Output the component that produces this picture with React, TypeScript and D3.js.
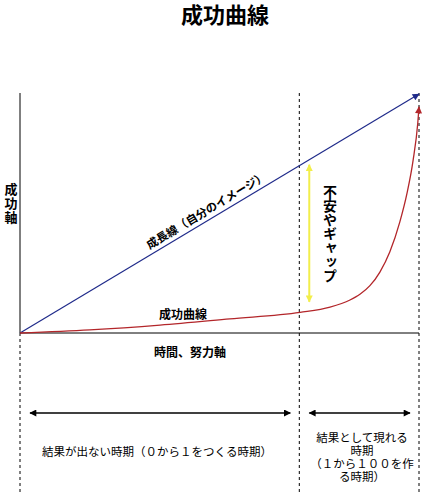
import React from 'react';
import * as d3 from 'd3';

// 横軸 = 時間・努力 (0-100), 縦軸 = 成功 (0-100)
const growthLine = [
  { t: 0, s: 0 },
  { t: 100, s: 100 },
];

// 成功曲線 (読み取り値)
const successTimes = [0, 17.5, 35.1, 52.6, 70.2, 77.7, 82.7, 85.2, 87.7, 90.2, 92.7, 95.2, 97.0, 98.5, 99.7, 100];
const successValues = [0, 1.3, 3.3, 5.9, 8.6, 10.8, 13.8, 16.2, 19.8, 25.5, 34.0, 46.5, 58.5, 72.0, 88.0, 94.6];

// 期間の区切り
const phaseBreaks = [0, 70, 100];
const gapTime = 72.5;

const title = '成功曲線';
const yAxisLabel = '成功軸';
const xAxisLabel = '時間、努力軸';
const growthLabel = '成長線（自分のイメージ）';
const curveLabel = '成功曲線';
const gapLabel = '不安やギャップ';
const phaseLabels = [
  ['結果が出ない時期（０から１をつくる時期）'],
  ['結果として現れる', '時期', '（１から１００を作', 'る時期）'],
];

const App: React.FC = () => {
  const width = 429;
  const height = 495;
  const marginLeft = 20;
  const marginRight = 10;
  const plotTop = 94;
  const plotBottom = 333;

  const x = d3.scaleLinear().domain([0, 100]).range([marginLeft, width - marginRight]);
  const y = d3.scaleLinear().domain([0, 100]).range([plotBottom, plotTop]);

  const successData = successTimes.map((t, i) => ({ t, s: successValues[i] }));

  const line = d3.line<{ t: number; s: number }>()
    .x((d) => x(d.t))
    .y((d) => y(d.s));
  const curve = d3.line<{ t: number; s: number }>()
    .x((d) => x(d.t))
    .y((d) => y(d.s))
    .curve(d3.curveMonotoneX);

  const font = '"Liberation Sans", "Noto Sans CJK JP", sans-serif';
  const dash = '3,3';

  // 成長線の角度
  const angle = (Math.atan2(y(100) - y(0), x(100) - x(0)) * 180) / Math.PI;
  const labelT = 46;
  const labelX = x(labelT) + 5;
  const labelY = y(labelT) - 9;

  const interp = d3.scaleLinear().domain(successTimes).range(successValues);
  const gapX = x(gapTime);
  const gapTop = y(gapTime) + 5;
  const gapBottom = y(interp(gapTime)) - 9;

  const arrowY = 413;

  return (
    <div style={{ position: 'absolute', left: 0, top: 0 }}>
      <svg width={width} height={height} style={{ display: 'block', background: '#fff' }}>
        <defs>
          <marker id="blueHead" viewBox="0 0 10 10" refX="9" refY="5" markerWidth="9" markerHeight="7" markerUnits="userSpaceOnUse" orient="auto">
            <path d="M0,0L10,5L0,10z" fill="#1f2a8a" />
          </marker>
          <marker id="redHead" viewBox="0 0 10 10" refX="9" refY="5" markerWidth="9" markerHeight="7" markerUnits="userSpaceOnUse" orient="auto">
            <path d="M0,0L10,5L0,10z" fill="#b3262a" />
          </marker>
          <marker id="yellowHead" viewBox="0 0 10 10" refX="9" refY="5" markerWidth="8" markerHeight="7" markerUnits="userSpaceOnUse" orient="auto-start-reverse">
            <path d="M0,0L10,5L0,10z" fill="#f2ee4a" />
          </marker>
          <marker id="blackHead" viewBox="0 0 10 10" refX="9" refY="5" markerWidth="10" markerHeight="7" markerUnits="userSpaceOnUse" orient="auto-start-reverse">
            <path d="M0,0L10,5L0,10z" fill="#000" />
          </marker>
        </defs>

        <text x={225} y={23} textAnchor="middle" fontFamily={font} fontWeight="bold" fontSize={22}>{title}</text>

        {/* 軸 */}
        <line x1={x(0)} x2={x(0)} y1={plotTop - 1} y2={plotBottom} stroke="#000" strokeWidth={1} />
        <line x1={x(0)} x2={x(100)} y1={plotBottom} y2={plotBottom} stroke="#000" strokeWidth={1} />

        {/* 区切り線 */}
        {phaseBreaks.map((p, i) => (
          <line key={i} x1={x(p)} x2={x(p)} y1={i === 0 ? plotBottom : plotTop - 1} y2={height}
            stroke="#000" strokeWidth={1} strokeDasharray={dash} />
        ))}

        {/* 成長線 */}
        <path d={line(growthLine) ?? ''} fill="none" stroke="#1f2a8a" strokeWidth={1.2} markerEnd="url(#blueHead)" />
        {/* 成功曲線 */}
        <path d={curve(successData) ?? ''} fill="none" stroke="#b3262a" strokeWidth={1.3} markerEnd="url(#redHead)" />

        {/* ギャップ矢印 */}
        <line x1={gapX} x2={gapX} y1={gapTop} y2={gapBottom} stroke="#f2ee4a" strokeWidth={2}
          markerStart="url(#yellowHead)" markerEnd="url(#yellowHead)" />
        <text x={329} y={185} fontFamily={font} fontWeight="bold" fontSize={14}
          style={{ writingMode: 'vertical-rl' }}>{gapLabel}</text>

        <text x={labelX} y={labelY} textAnchor="middle" fontFamily={font} fontWeight="bold" fontSize={11.5}
          transform={`rotate(${angle},${labelX},${labelY})`}>{growthLabel}</text>
        <text x={183} y={319} textAnchor="middle" fontFamily={font} fontWeight="bold" fontSize={12}>{curveLabel}</text>

        <text x={10} y={183} fontFamily={font} fontWeight="bold" fontSize={13}
          style={{ writingMode: 'vertical-rl', letterSpacing: '1px' }}>{yAxisLabel}</text>
        <text x={190} y={357} textAnchor="middle" fontFamily={font} fontWeight="bold" fontSize={12}>{xAxisLabel}</text>

        {/* 期間の矢印 */}
        {phaseBreaks.slice(1).map((p, i) => (
          <line key={i} x1={x(phaseBreaks[i]) + 10} x2={x(p) - 9} y1={arrowY} y2={arrowY}
            stroke="#000" strokeWidth={1.3} markerStart="url(#blackHead)" markerEnd="url(#blackHead)" />
        ))}
        <text x={157} y={456} textAnchor="middle" fontFamily={font} fontSize={11.5}>{phaseLabels[0][0]}</text>
        <text x={362} y={442} textAnchor="middle" fontFamily={font} fontSize={11.5}>
          {phaseLabels[1].map((s, i) => (
            <tspan key={i} x={362} dy={i === 0 ? 0 : 13}>{s}</tspan>
          ))}
        </text>
      </svg>
    </div>
  );
};

export default App;
